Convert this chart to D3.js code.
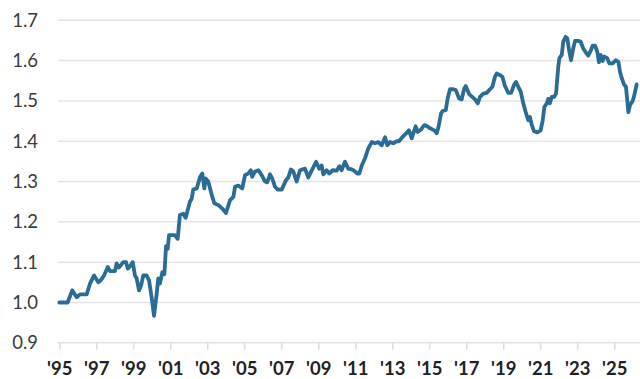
<!DOCTYPE html>
<html>
<head>
<meta charset="utf-8">
<script src="https://cdn.jsdelivr.net/npm/d3@7"></script>
<style>
html,body{margin:0;padding:0;background:#fff;}
svg{display:block;}
</style>
</head>
<body>
<svg id="chart" width="640" height="379"></svg>
<script>
const dates = [1995.00,1995.45,1995.70,1995.94,1996.12,1996.48,1996.66,1996.88,1997.11,1997.24,1997.42,1997.62,1997.74,1998.01,1998.10,1998.23,1998.46,1998.61,1998.70,1998.82,1998.97,1999.09,1999.18,1999.31,1999.42,1999.54,1999.72,1999.85,1999.99,2000.12,2000.26,2000.35,2000.44,2000.57,2000.68,2000.77,2000.86,2000.93,2001.25,2001.40,2001.52,2001.70,2001.83,2002.06,2002.16,2002.24,2002.43,2002.61,2002.73,2002.84,2002.91,2003.05,2003.24,2003.38,2003.59,2003.81,2004.01,2004.23,2004.41,2004.50,2004.68,2004.89,2005.04,2005.22,2005.35,2005.43,2005.58,2005.76,2005.94,2006.12,2006.24,2006.39,2006.51,2006.66,2006.81,2007.02,2007.25,2007.38,2007.52,2007.65,2007.83,2008.01,2008.28,2008.46,2008.64,2008.88,2009.05,2009.18,2009.27,2009.45,2009.59,2009.78,2009.99,2010.14,2010.26,2010.44,2010.62,2010.81,2010.93,2011.11,2011.22,2011.35,2011.52,2011.70,2011.89,2012.06,2012.24,2012.43,2012.61,2012.73,2012.88,2013.05,2013.24,2013.36,2013.54,2013.72,2013.90,2014.05,2014.26,2014.37,2014.55,2014.73,2014.89,2015.04,2015.27,2015.40,2015.49,2015.63,2015.72,2015.89,2015.99,2016.12,2016.30,2016.43,2016.61,2016.75,2016.89,2016.97,2017.15,2017.32,2017.47,2017.62,2017.74,2017.92,2018.10,2018.28,2018.41,2018.55,2018.64,2018.82,2018.95,2019.09,2019.27,2019.42,2019.58,2019.69,2019.81,2019.94,2020.08,2020.23,2020.35,2020.44,2020.54,2020.66,2020.84,2021.02,2021.13,2021.22,2021.35,2021.43,2021.52,2021.62,2021.74,2021.85,2021.97,2022.03,2022.16,2022.24,2022.37,2022.46,2022.57,2022.66,2022.78,2022.88,2023.05,2023.18,2023.32,2023.47,2023.59,2023.72,2023.83,2023.96,2024.08,2024.17,2024.26,2024.37,2024.46,2024.62,2024.73,2024.91,2025.09,2025.22,2025.31,2025.40,2025.52,2025.63,2025.70,2025.76,2025.85,2025.99,2026.06,2026.21];
const values = [1.000,1.000,1.030,1.013,1.020,1.020,1.047,1.067,1.050,1.055,1.067,1.088,1.078,1.078,1.097,1.087,1.100,1.100,1.084,1.090,1.100,1.067,1.060,1.030,1.042,1.067,1.067,1.055,1.013,0.967,1.020,1.060,1.047,1.075,1.070,1.140,1.133,1.167,1.167,1.158,1.217,1.220,1.210,1.250,1.258,1.280,1.283,1.312,1.320,1.283,1.308,1.300,1.267,1.246,1.242,1.233,1.222,1.254,1.262,1.287,1.290,1.283,1.316,1.320,1.328,1.312,1.325,1.328,1.316,1.300,1.298,1.318,1.308,1.287,1.280,1.280,1.303,1.310,1.330,1.325,1.300,1.328,1.332,1.310,1.327,1.349,1.332,1.340,1.318,1.328,1.320,1.328,1.327,1.338,1.328,1.349,1.332,1.330,1.327,1.320,1.320,1.340,1.357,1.382,1.398,1.395,1.398,1.390,1.410,1.390,1.398,1.395,1.400,1.400,1.410,1.418,1.427,1.407,1.437,1.423,1.429,1.440,1.437,1.432,1.427,1.420,1.434,1.468,1.475,1.477,1.506,1.529,1.529,1.527,1.506,1.504,1.531,1.537,1.517,1.510,1.504,1.494,1.510,1.518,1.520,1.529,1.535,1.560,1.568,1.564,1.560,1.537,1.520,1.520,1.540,1.547,1.535,1.523,1.494,1.469,1.452,1.460,1.440,1.425,1.422,1.427,1.452,1.485,1.494,1.505,1.494,1.510,1.510,1.518,1.584,1.606,1.614,1.647,1.659,1.655,1.622,1.601,1.630,1.649,1.649,1.647,1.630,1.620,1.612,1.624,1.637,1.637,1.622,1.596,1.614,1.599,1.610,1.606,1.593,1.593,1.601,1.597,1.572,1.557,1.541,1.535,1.502,1.472,1.490,1.500,1.510,1.541];
const yTicks = [0.9,1.0,1.1,1.2,1.3,1.4,1.5,1.6,1.7];
const xTicks = [1995,1997,1999,2001,2003,2005,2007,2009,2011,2013,2015,2017,2019,2021,2023,2025];

const svg = d3.select("#chart");
const x = d3.scaleLinear().domain([1995, 2025]).range([59.3, 614.3]);
const y = d3.scaleLinear().domain([0.9, 1.7]).range([342.8, 20.3]);
const gridLeft = 58, gridRight = 640;

// horizontal gridlines
svg.append("g").selectAll("line").data(yTicks).join("line")
  .attr("x1", gridLeft).attr("x2", gridRight)
  .attr("y1", d => y(d)).attr("y2", d => y(d))
  .attr("stroke", "#e4e4e4").attr("stroke-width", 1.5);

// y labels
svg.append("g").selectAll("text").data(yTicks).join("text")
  .attr("x", 38).attr("y", d => y(d))
  .attr("dy", "0.35em")
  .attr("text-anchor", "end")
  .attr("font-family", "Lato, 'Open Sans', sans-serif")
  .attr("font-size", 18.5)
  .attr("fill", "#3a3a3a")
  .text(d => d.toFixed(1));

// x axis ticks
const xAxis = d3.axisBottom(x).tickValues(xTicks).tickSize(7).tickSizeOuter(0)
  .tickFormat(d => "'" + String(d).slice(2));
const gx = svg.append("g").attr("transform", `translate(0,${y(0.9)})`).call(xAxis);
gx.select(".domain").remove();
gx.selectAll(".tick line").attr("stroke", "#dcdcdc").attr("stroke-width", 1.5);
gx.selectAll(".tick text")
  .attr("y", 19)
  .attr("dy", "0.71em")
  .attr("font-family", "Lato, 'Open Sans', sans-serif")
  .attr("font-size", 18.5)
  .attr("font-weight", 700)
  .attr("fill", "#222");

// line
const pts = dates.map((d, i) => [d, values[i]]);
const line = d3.line().x(d => x(d[0])).y(d => y(d[1])).curve(d3.curveLinear);
svg.append("path").datum(pts)
  .attr("d", line)
  .attr("fill", "none")
  .attr("stroke", "#2b6c96")
  .attr("stroke-width", 3.8)
  .attr("stroke-linejoin", "round")
  .attr("stroke-linecap", "round");
</script>
</body>
</html>
